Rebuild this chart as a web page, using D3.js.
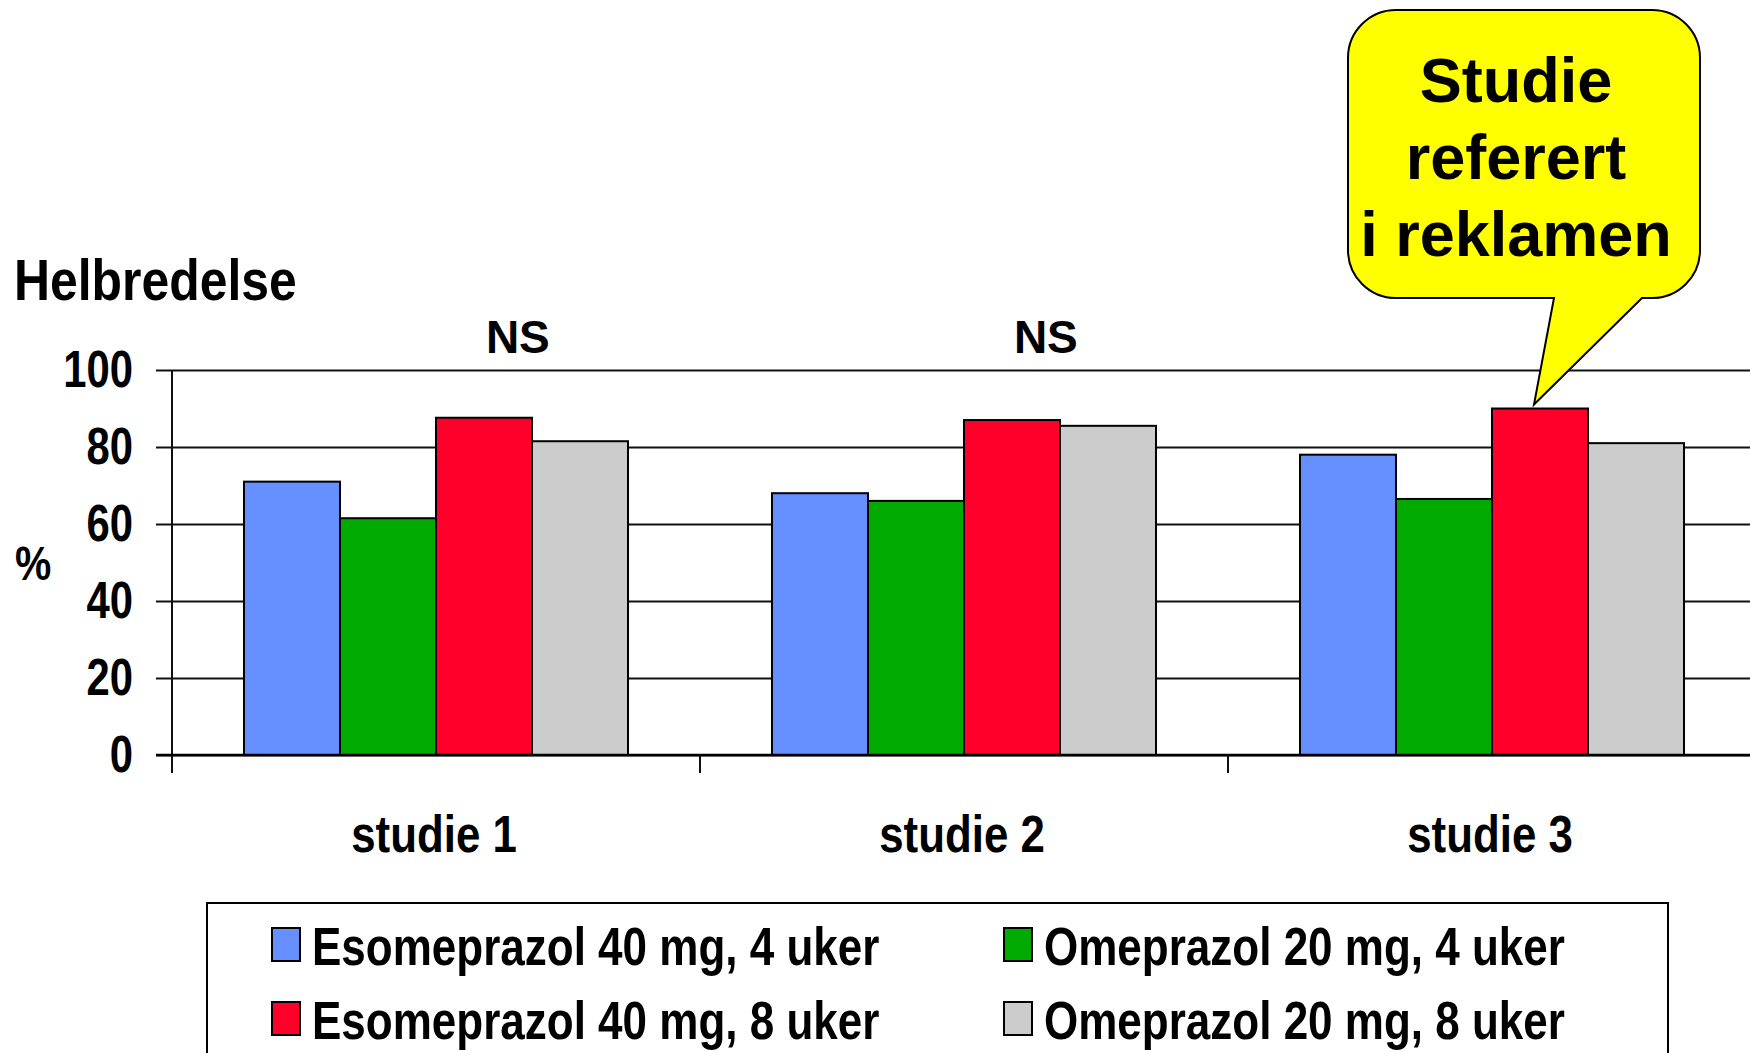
<!DOCTYPE html>
<html>
<head>
<meta charset="utf-8">
<script src="https://cdn.jsdelivr.net/npm/d3@7"></script>
<style>
  html, body { margin: 0; padding: 0; background: #fff; overflow: hidden; }
  svg { display: block; }
  text { font-family: "Liberation Sans", Arial, "Helvetica", sans-serif; font-weight: bold; fill: #000; }
</style>
</head>
<body>
<script>
// ---------- data ----------
const categories = ["studie 1", "studie 2", "studie 3"];
const seriesNames = [
  "Esomeprazol 40 mg, 4 uker",
  "Omeprazol 20 mg, 4 uker",
  "Esomeprazol 40 mg, 8 uker",
  "Omeprazol 20 mg, 8 uker"
];
const esomeprazol4 = [71, 68, 78];
const omeprazol4   = [61.5, 66, 66.5];
const esomeprazol8 = [87.6, 87, 90];
const omeprazol8   = [81.5, 85.5, 81];
const seriesColors = ["#668fff", "#00aa00", "#ff002b", "#cccccc"];
const yTicks = [0, 20, 40, 60, 80, 100];
const significance = ["NS", "NS", ""];
const yTitle = "Helbredelse";
const yUnit = "%";
const calloutLines = ["Studie", "referert", "i reklamen"];
const calloutTarget = { category: "studie 3", series: 2 };

const seriesValues = [esomeprazol4, omeprazol4, esomeprazol8, omeprazol8];

// ---------- layout ----------
const W = 1750, H = 1053;
const svg = d3.select("body").append("svg").attr("width", W).attr("height", H);

const x0 = d3.scaleBand().domain(categories).range([172, 1756]).paddingInner(0).paddingOuter(0);
const x1 = d3.scaleBand().domain(d3.range(seriesNames.length))
  .range([0, x0.bandwidth()]).paddingInner(0).paddingOuter(0.75);
const y = d3.scaleLinear().domain([0, 100]).range([755, 370]);

// gridlines
const grid = svg.append("g").attr("transform", "translate(172,0)")
  .call(d3.axisLeft(y).tickValues(yTicks).tickSize(-(W - 172)).tickFormat(""));
grid.select(".domain").remove();
grid.selectAll("line").attr("stroke", "#111").attr("stroke-width", 2);

// y axis with outward ticks + labels
const yAxis = svg.append("g").attr("transform", "translate(172,0)")
  .call(d3.axisLeft(y).tickValues(yTicks).tickSize(16).tickSizeOuter(0).tickPadding(23));
yAxis.select(".domain").remove();
yAxis.selectAll("line").attr("stroke", "#111").attr("stroke-width", 2);
yAxis.selectAll("text")
  .attr("x", 0)
  .attr("transform", "translate(-39,0) scale(0.82,1)")
  .attr("text-anchor", "end")
  .style("font-size", "51px")
  .attr("fill", "#000");

// y axis vertical line (down to the category tick length)
svg.append("line")
  .attr("x1", 172).attr("x2", 172)
  .attr("y1", y(100)).attr("y2", y(0) + 18)
  .attr("stroke", "#111").attr("stroke-width", 2);

// category boundary ticks
svg.append("g").selectAll("line").data(categories).join("line")
  .attr("x1", d => x0(d)).attr("x2", d => x0(d))
  .attr("y1", y(0)).attr("y2", y(0) + 18)
  .attr("stroke", "#111").attr("stroke-width", 2);

// bars
const groups = svg.append("g").selectAll("g").data(categories).join("g")
  .attr("transform", d => `translate(${x0(d)},0)`);
groups.selectAll("rect")
  .data((c, ci) => seriesValues.map((vals, si) => ({ si, v: vals[ci] })))
  .join("rect")
  .attr("x", d => x1(d.si))
  .attr("width", x1.bandwidth())
  .attr("y", d => y(d.v))
  .attr("height", d => y(0) - y(d.v))
  .attr("fill", d => seriesColors[d.si])
  .attr("stroke", "#000").attr("stroke-width", 2);

// x axis line (on top)
svg.append("line")
  .attr("x1", 156).attr("x2", W)
  .attr("y1", y(0)).attr("y2", y(0))
  .attr("stroke", "#000").attr("stroke-width", 2.5);

// category labels
svg.append("g").selectAll("text").data(categories).join("text")
  .attr("transform", d => `translate(${x0(d) + x0.bandwidth() / 2 - 2},852) scale(0.86,1)`)
  .attr("text-anchor", "middle")
  .style("font-size", "51px")
  .text(d => d);

// NS labels
svg.append("g").selectAll("text").data(categories.map((c, i) => ({ c, t: significance[i] })).filter(d => d.t))
  .join("text")
  .attr("transform", d => `translate(${x0(d.c) + x0.bandwidth() * 0.655},353)`)
  .attr("text-anchor", "middle")
  .style("font-size", "46px")
  .text(d => d.t);

// y title & unit
svg.append("text")
  .attr("transform", "translate(14,300) scale(0.86,1)")
  .style("font-size", "58px")
  .text(yTitle);
svg.append("text")
  .attr("transform", "translate(15,580) scale(0.85,1)")
  .style("font-size", "48px")
  .text(yUnit);

// legend
const legend = svg.append("g");
legend.append("rect")
  .attr("x", 207).attr("y", 903).attr("width", 1461).attr("height", 200)
  .attr("fill", "#fff").attr("stroke", "#000").attr("stroke-width", 2);
const legendPos = [
  { x: 272, y: 928 }, { x: 1004, y: 928 },
  { x: 272, y: 1002 }, { x: 1004, y: 1002 }
];
const li = legend.selectAll("g.item").data(seriesNames).join("g").attr("class", "item")
  .attr("transform", (d, i) => `translate(${legendPos[i].x},${legendPos[i].y})`);
li.append("rect").attr("width", 28).attr("height", 33)
  .attr("fill", (d, i) => seriesColors[i]).attr("stroke", "#000").attr("stroke-width", 2);
li.append("text")
  .attr("transform", "translate(40,37) scale(0.815,1)")
  .style("font-size", "54px")
  .text(d => d);

// callout
const bx0 = 1348, by0 = 10, bx1 = 1700, by1 = 298, r = 48;
const tgtX = x0(calloutTarget.category) + x1(calloutTarget.series) + 42;
const tgtY = y(esomeprazol8[categories.indexOf(calloutTarget.category)]) - 4;
const tailL = 1554, tailR = 1642;
const p = d3.path();
p.moveTo(bx0 + r, by0);
p.lineTo(bx1 - r, by0);
p.arcTo(bx1, by0, bx1, by0 + r, r);
p.lineTo(bx1, by1 - r);
p.arcTo(bx1, by1, bx1 - r, by1, r);
p.lineTo(tailR, by1);
p.lineTo(tgtX, tgtY);
p.lineTo(tailL, by1);
p.lineTo(bx0 + r, by1);
p.arcTo(bx0, by1, bx0, by1 - r, r);
p.lineTo(bx0, by0 + r);
p.arcTo(bx0, by0, bx0 + r, by0, r);
p.closePath();
svg.append("path").attr("d", p.toString())
  .attr("fill", "#ffff00").attr("stroke", "#000").attr("stroke-width", 2);
svg.append("g").selectAll("text").data(calloutLines).join("text")
  .attr("x", 1516).attr("y", (d, i) => 102 + i * 77)
  .attr("text-anchor", "middle")
  .style("font-size", "63px")
  .text(d => d);
</script>
</body>
</html>
